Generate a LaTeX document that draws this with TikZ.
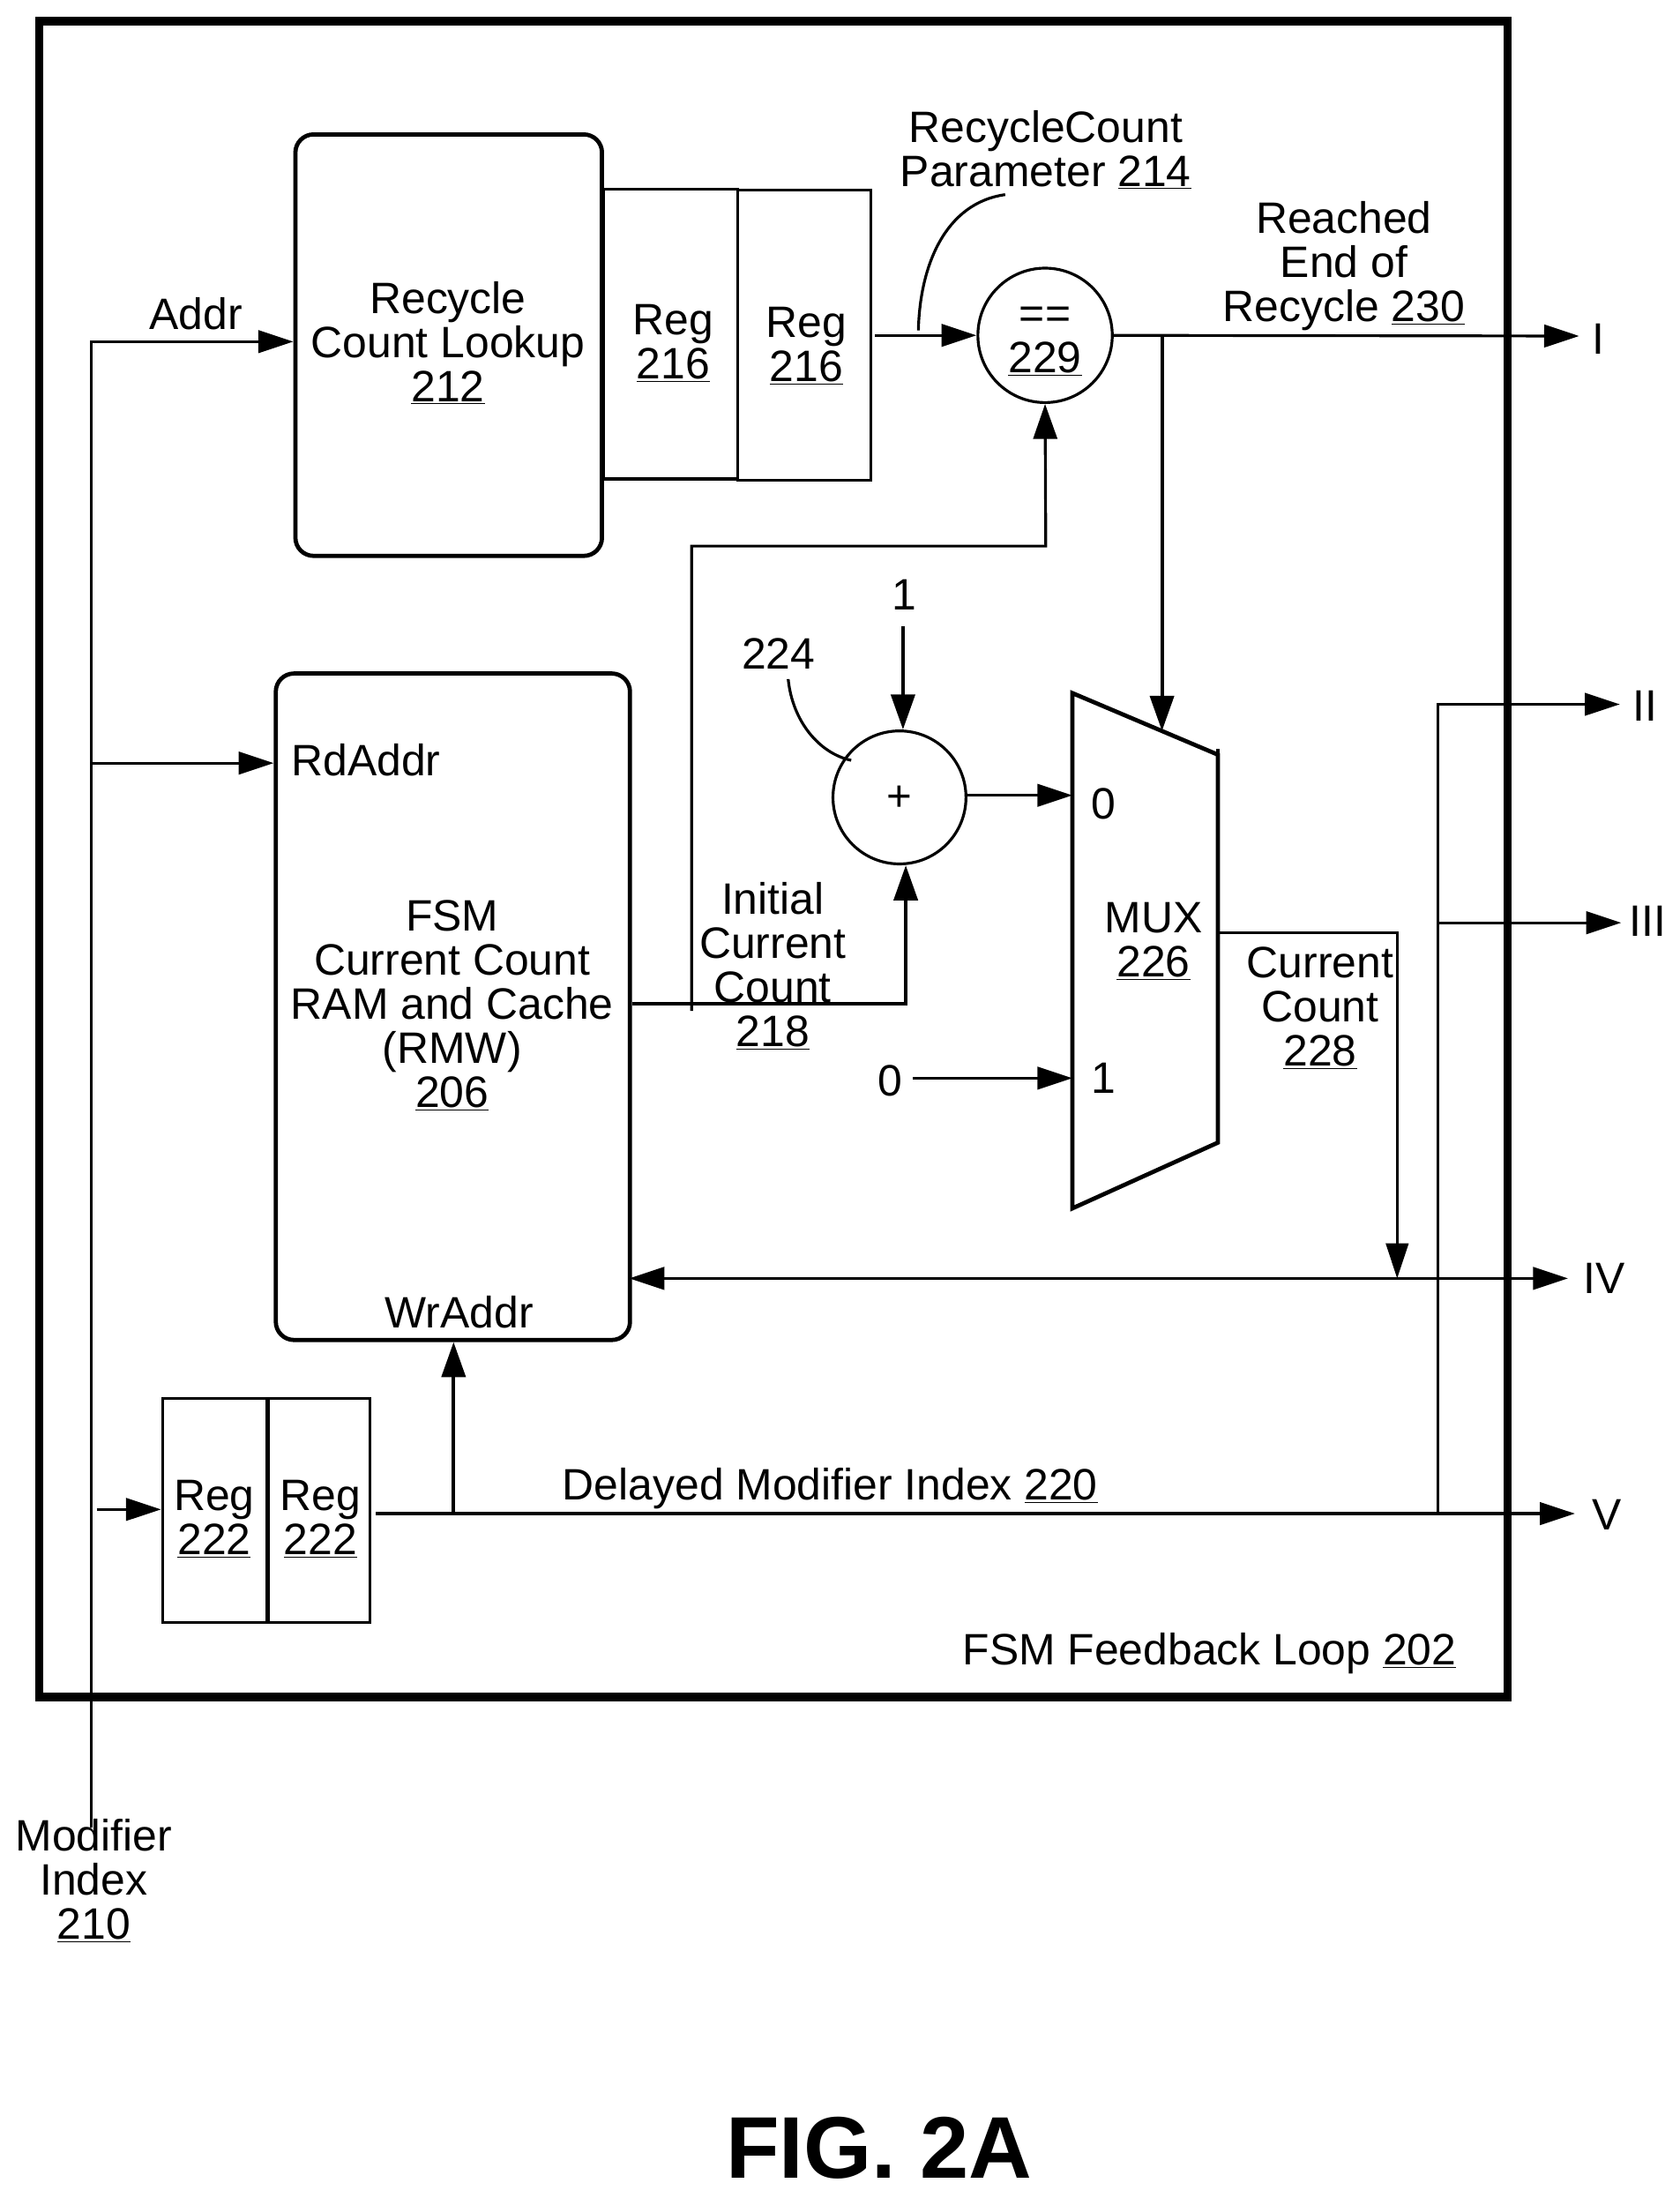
\documentclass[tikz,border=0pt]{standalone}
\usepackage{fontspec}
\setmainfont{Liberation Sans}
\usetikzlibrary{arrows.meta,calc}
\tikzset{
  wire/.style={line width=2pt,draw=black},
  heavy/.style={line width=2.5pt,draw=black},
  arr/.style={wire,-{Triangle[length=25pt,width=16pt]}},
  harr/.style={heavy,-{Triangle[length=25pt,width=17pt]}},
  frame/.style={line width=6pt,draw=black,line join=miter},
  rbox/.style={draw=black,line width=3pt,rounded corners=13pt,inner sep=0pt},
  regbox/.style={draw=black,line width=2pt,inner sep=0pt},
  circ/.style={draw=black,line width=2pt,circle,inner sep=0pt,minimum size=95pt},
  txt/.style={inner sep=0pt,align=center,font=\fontsize{31.4}{31.5}\selectfont},
  muxp/.style={draw=black,line width=3pt,line join=miter},
}
\begin{document}
\begin{tikzpicture}[x=1pt,y=-1pt]
\useasboundingbox (0,0) rectangle (1200,1569.8);
\fill[white] (0,0) rectangle (1200,1569.8);

% outer frame
\node[frame,inner sep=0pt,minimum width=1049pt,minimum height=1197pt] (loop) at (552.5,613.5) {};
\node[txt,anchor=center] (looptxt) at (864,1181) {FSM Feedback Loop \underline{202}};

% lookup + regs
\node[rbox,minimum width=219pt,minimum height=301pt] (lookup) at (320.5,246.5) {};
\node[txt] (lookuptxt) at (320,245) {Recycle\\Count Lookup\\\underline{212}};
\node[regbox,minimum width=96pt,minimum height=207pt] (rega) at (479,238.5) {};
\node[txt] (regatxt) at (481,245) {Reg\\\underline{216}};
\node[regbox,minimum width=95pt,minimum height=207pt] (regb) at (574.5,239.5) {};
\node[txt] (regbtxt) at (576,247) {Reg\\\underline{216}};

% comparator
\node[circ,minimum size=96pt] (eq) at (746.5,239.5) {};
\node[txt] (eqtxt) at (746.5,244) {==\\\underline{229}};
\node[txt] (paramtxt) at (747,107) {RecycleCount\\Parameter \underline{214}};
\node[txt] (reachedtxt) at (960,190) {Reached\\End of\\Recycle \underline{230}};
\coordinate (paramstart) at (656,236);
\coordinate (paramend) at (718,139);
\draw[wire] (paramstart) .. controls (657,190) and (675,145) .. (paramend);
\node[txt] (itxt) at (1142,242) {I};
\coordinate (iend) at (1128,240);
\draw[arr] (eq.east) -- (iend);
\draw[arr] ([xshift=2pt]regb.east) -- (eq.west);

% RAM
\node[rbox,minimum width=253pt,minimum height=476pt] (ram) at (323.5,719) {};
\node[txt,anchor=west] (rdtxt) at (208,543) {RdAddr};
\node[txt] (ramtxt) at (323,718) {FSM\\Current Count\\RAM and Cache\\(RMW)\\\underline{206}};
\node[txt] (wrtxt) at (328,937) {WrAddr};

% modifier index
\coordinate (mi) at (65,1305);
\node[txt] (mitxt) at (67,1343) {Modifier\\Index\\\underline{210}};
\node[txt] (addrtxt) at (140,224) {Addr};
\draw[arr] (mi) |- ([yshift=2.5pt]lookup.west);
\coordinate (mibranch) at (65,545);
\draw[arr] (mibranch) -- (ram.west |- mibranch);

% delay regs
\node[regbox,minimum width=74.5pt,minimum height=160pt] (regc) at (153.25,1079) {};
\node[regbox,minimum width=74pt,minimum height=160pt,line width=2pt] (regd) at (227.5,1079) {};
\draw[heavy] (regc.north east) -- (regc.south east);
\node[txt] (regctxt) at (153,1085) {Reg\\\underline{222}};
\node[txt] (regdtxt) at (229,1085) {Reg\\\underline{222}};
\coordinate (regin) at (69,1078);
\draw[arr] (regin) -- (regc.west |- regin);
\coordinate (vend) at (1125,1081);
\draw[arr] ([xshift=3pt]regd.east |- vend) -- (vend);
\node[txt] (vtxt) at (1148,1082) {V};
\coordinate (wrbranch) at (324,1081);
\draw[harr] (wrbranch) -- (wrbranch |- ram.south);
\node[txt] (delaytxt) at (593,1063) {Delayed Modifier Index \underline{220}};

% fan-out
\coordinate (fan) at (1027,1081);
\coordinate (iiend) at (1157,503);
\coordinate (iiiend) at (1158,659);
\draw[arr] (fan) |- (iiend);
\draw[arr] (fan |- iiiend) -- (iiiend);
\node[txt] (iitxt) at (1175,504) {II};
\node[txt] (iiitxt) at (1177,658) {III};

% adder
\node[circ,minimum size=95pt] (add) at (642.5,569.5) {};
\node[inner sep=0pt,font=\fontsize{31}{31}\selectfont] (plustxt) at (642.5,570) {+};
\node[txt] (onetxt) at (646,425) {1};
\coordinate (onestart) at (645,447);
\draw[harr] (onestart) -- (onestart |- add.north);
\node[txt] (addtxt) at (556,467) {224};
\coordinate (addcallout) at (563,485);
\coordinate (addcalloutend) at (608,543);
\draw[wire] (addcallout) .. controls (566,515) and (585,538) .. (addcalloutend);

% mux
\coordinate (ma) at (766,495);
\coordinate (mb) at (870,539);
\coordinate (mc) at (870,816);
\coordinate (md) at (766,863);
\draw[muxp] (ma) -- (mb) -- (mc) -- (md) -- cycle;
\draw[muxp] (mb) -- ([yshift=4pt]mb);
\node[txt] (muxtxt) at (824,672) {MUX\\\underline{226}};
\node[txt] (m0) at (788,574) {0};
\node[txt] (m1) at (788,770) {1};
\node[txt] (zerotxt) at (636,772) {0};
\coordinate (m0in) at (766,568);
\coordinate (m1in) at (766,770);
\draw[arr] (add.east |- m0in) -- (m0in);
\draw[arr] (652,770) -- (m1in);
% reached -> mux select
\coordinate (selbranch) at (830,240);
\coordinate (selend) at (830,522);
\draw[harr] (selbranch) -- (selend);

% feedback to comparator
\coordinate (fbbase) at (494,722);
\draw[wire,-{Triangle[length=25pt,width=17pt]}] (fbbase) -- (494,390) -- (747,390) -- (eq.south);

% initial count
\node[txt] (inittxt) at (552,690) {Initial\\Current\\Count\\\underline{218}};
\coordinate (initcorner) at (647,717);
\draw[harr] (ram.east |- initcorner) -- (initcorner) -- (initcorner |- add.south);

% current count
\node[txt] (cctxt) at (943,720) {Current\\Count\\\underline{228}};
\coordinate (ccstart) at (870,666);
\coordinate (cccorner) at (998,666);
\coordinate (ccend) at (998,913);
\draw[arr] (ccstart) -- (cccorner) -- (ccend);
\coordinate (ivend) at (1120,913);
\draw[wire,{Triangle[length=25pt,width=16pt]}-{Triangle[length=25pt,width=16pt]}] ([xshift=-2pt]ram.east |- ivend) -- (ivend);
\node[txt] (ivtxt) at (1146,913) {IV};

% title
\node[inner sep=0pt,font=\fontsize{62.5}{62.5}\selectfont\bfseries] (fig) at (628,1534) {FIG. 2A};
\end{tikzpicture}
\end{document}
